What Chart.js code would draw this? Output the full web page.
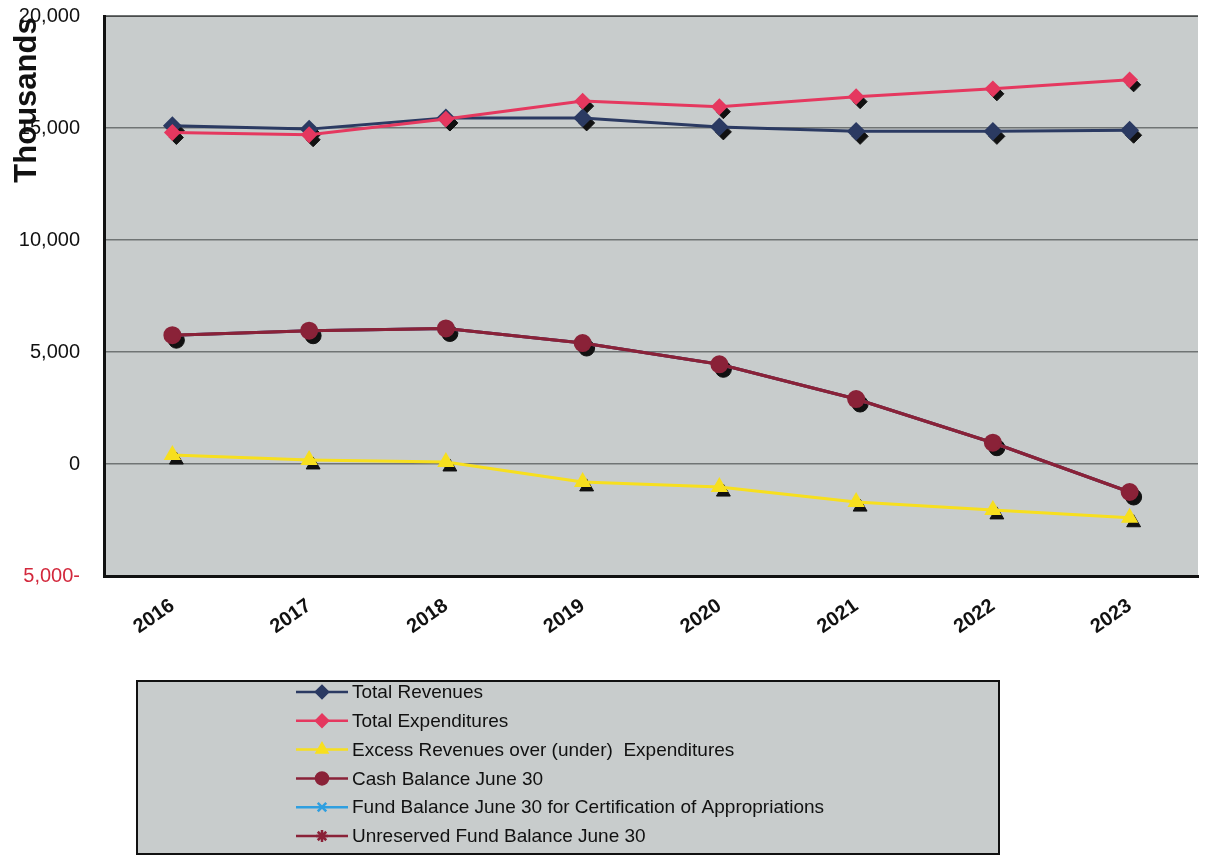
<!DOCTYPE html>
<html>
<head>
<meta charset="utf-8">
<title>Revenues, Expenditures and Balances</title>
<script src="https://cdn.jsdelivr.net/npm/chart.js@4/dist/chart.umd.min.js"></script>
<style>
  body { margin: 0; background: #fff; }
  #wrap { width: 1208px; height: 856px; }
</style>
</head>
<body>
<div id="wrap"><canvas id="fund-chart" width="1208" height="856"></canvas></div>
<script>
// data (thousands)
const years = ["2016", "2017", "2018", "2019", "2020", "2021", "2022", "2023"];
const totalRevenues     = [15100, 14950, 15450, 15450, 15050, 14850, 14850, 14900];
const totalExpenditures = [14800, 14700, 15400, 16200, 15950, 16400, 16750, 17150];
const excessRevenues    = [400, 180, 90, -800, -1030, -1700, -2050, -2400];
const cashBalance       = [5750, 5950, 6050, 5400, 4450, 2900, 950, -1250];
const fundBalanceCert   = [5750, 5950, 6050, 5400, 4450, 2900, 950, -1250];
const unreservedBalance = [5750, 5950, 6050, 5400, 4450, 2900, 950, -1250];
const yTicks = [-5000, 0, 5000, 10000, 15000, 20000];

const plotGray = "#c8cccc";

// gray plot background + top frame line
const plotBackground = {
    id: "plotBackground",
    beforeDraw(chart) {
        const { ctx, chartArea: a } = chart;
        ctx.save();
        ctx.fillStyle = plotGray;
        ctx.fillRect(a.left, a.top, a.right - a.left, a.bottom - a.top);
        ctx.strokeStyle = "#222";
        ctx.lineWidth = 2;
        ctx.beginPath();
        ctx.moveTo(a.left, a.top);
        ctx.lineTo(a.right, a.top);
        ctx.stroke();
        ctx.restore();
    }
};

// dark drop shadow under every marker, like the old spreadsheet chart
const markerShadow = {
    id: "markerShadow",
    beforeDatasetsDraw(chart) {
        const ctx = chart.ctx;
        ctx.save();
        chart.data.datasets.forEach(function (ds, i) {
            const meta = chart.getDatasetMeta(i);
            if (meta.hidden) return;
            meta.data.forEach(function (pt) {
                ctx.fillStyle = "#111";
                ctx.strokeStyle = "#111";
                Chart.helpers.drawPoint(ctx, {
                    pointStyle: ds.pointStyle,
                    radius: ds.pointRadius,
                    rotation: 0,
                    borderWidth: 2
                }, pt.x + 4, pt.y + 5);
            });
        });
        ctx.restore();
    }
};

// rotated axis title placed near the top, overlapping the tick labels
const axisTitle = {
    id: "axisTitle",
    afterDraw(chart) {
        const ctx = chart.ctx;
        ctx.save();
        ctx.translate(27, 100);
        ctx.rotate(-Math.PI / 2);
        ctx.fillStyle = "#111";
        ctx.font = "bold 31px 'Liberation Sans', Arial, sans-serif";
        ctx.textAlign = "center";
        ctx.textBaseline = "middle";
        ctx.fillText("Thousands", 0, 0);
        ctx.restore();
    }
};

// boxed legend below the chart, one series per row
const boxLegend = {
    id: "boxLegend",
    afterDraw(chart) {
        const ctx = chart.ctx;
        const box = { x: 137, y: 681, w: 862, h: 173 };
        ctx.save();
        ctx.fillStyle = plotGray;
        ctx.fillRect(box.x, box.y, box.w, box.h);
        ctx.strokeStyle = "#111";
        ctx.lineWidth = 2;
        ctx.strokeRect(box.x, box.y, box.w, box.h);

        ctx.font = "19px 'Liberation Sans', Arial, sans-serif";
        ctx.textBaseline = "middle";
        chart.data.datasets.forEach(function (ds, i) {
            const y = 692 + i * 28.8;
            ctx.strokeStyle = ds.borderColor;
            ctx.lineWidth = 2.5;
            ctx.beginPath();
            ctx.moveTo(296, y);
            ctx.lineTo(348, y);
            ctx.stroke();
            ctx.fillStyle = ds.pointBackgroundColor;
            ctx.strokeStyle = ds.pointBorderColor;
            Chart.helpers.drawPoint(ctx, {
                pointStyle: ds.pointStyle,
                radius: 6,
                rotation: 0,
                borderWidth: 2
            }, 322, y);
            ctx.fillStyle = "#111";
            ctx.fillText(ds.label, 352, y + 1);
        });
        ctx.restore();
    }
};

function series(label, data, color, style, radius, order) {
    return {
        label: label,
        data: data,
        borderColor: color,
        backgroundColor: color,
        pointBackgroundColor: color,
        pointBorderColor: color,
        pointStyle: style,
        pointRadius: radius,
        pointBorderWidth: 2,
        borderWidth: 3,
        tension: 0,
        order: order
    };
}

const ctx = document.getElementById("fund-chart").getContext("2d");
const fundChart = new Chart(ctx, {
    type: "line",
    data: {
        labels: years,
        datasets: [
            series("Total Revenues", totalRevenues, "#2b3a62", "rectRot", 8, 2),
            series("Total Expenditures", totalExpenditures, "#e5385f", "rectRot", 7, 1),
            series("Excess Revenues over (under)  Expenditures", excessRevenues, "#f7df1e", "triangle", 8, 3),
            series("Cash Balance June 30", cashBalance, "#8a2238", "circle", 8, 4),
            series("Fund Balance June 30 for Certification of Appropriations", fundBalanceCert, "#2f9fe0", "crossRot", 7, 6),
            series("Unreserved Fund Balance June 30", unreservedBalance, "#8a2238", "star", 7, 5)
        ]
    },
    options: {
        responsive: false,
        animation: false,
        layout: { padding: { top: 16, right: 0, left: 0, bottom: 0 } },
        plugins: {
            legend: { display: false },
            tooltip: { enabled: false }
        },
        scales: {
            x: {
                offset: true,
                grid: { display: false, drawTicks: false },
                border: { color: "#111", width: 3 },
                ticks: {
                    color: "#111",
                    font: { family: "'Liberation Sans', Arial, sans-serif", size: 20, weight: "bold" },
                    minRotation: 35,
                    maxRotation: 35,
                    padding: 18
                },
                afterFit: function (scale) {
                    scale.height = 280;
                    scale.paddingLeft = 0;
                    scale.paddingRight = 0;
                }
            },
            y: {
                min: -5000,
                max: 20000,
                afterBuildTicks: function (scale) {
                    scale.ticks = yTicks.map(function (v) { return { value: v }; });
                },
                grid: { color: "#707474", lineWidth: 1.5, drawTicks: false },
                border: { color: "#111", width: 3 },
                ticks: {
                    padding: 24,
                    font: { family: "'Liberation Sans', Arial, sans-serif", size: 20 },
                    color: function (c) { return c.tick.value < 0 ? "#d3283c" : "#111"; },
                    callback: function (v) {
                        const s = Math.abs(v).toLocaleString("en-US");
                        return v < 0 ? s + "-" : s;
                    }
                },
                afterFit: function (scale) {
                    scale.width = 104;
                    scale.paddingTop = 0;
                    scale.paddingBottom = 0;
                }
            }
        }
    },
    plugins: [plotBackground, markerShadow, axisTitle, boxLegend]
});
</script>
</body>
</html>
